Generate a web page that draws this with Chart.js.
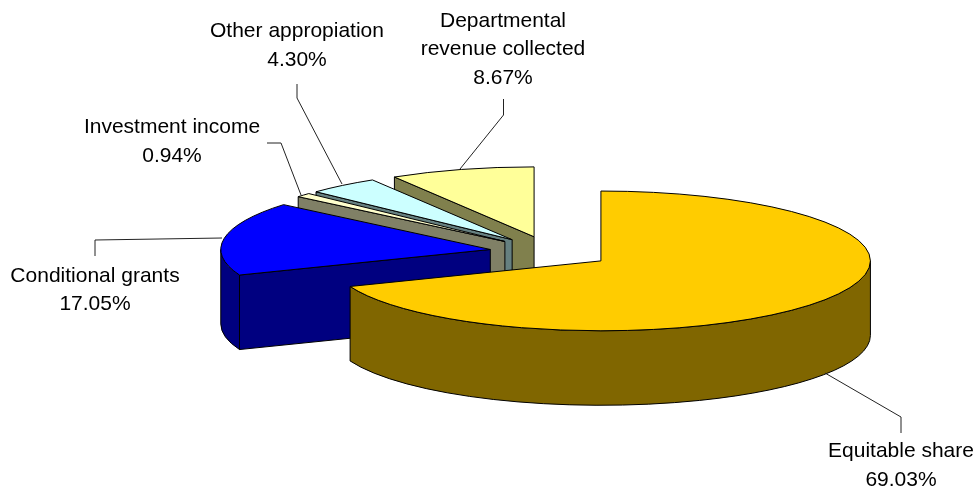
<!DOCTYPE html>
<html>
<head>
<meta charset="utf-8">
<style>html,body{margin:0;padding:0;background:#fff}canvas{display:block}</style>
<script src="https://cdn.jsdelivr.net/npm/chart.js@4/dist/chart.umd.js"></script>
</head>
<body>
<canvas id="c" width="977" height="488"></canvas>
<script>
const categories = ['Equitable share', 'Conditional grants', 'Investment income', 'Other appropiation', 'Departmental revenue collected'];
const values = [69.03, 17.05, 0.94, 4.30, 8.67];
const valueLabels = ['69.03%', '17.05%', '0.94%', '4.30%', '8.67%'];
const topColors = ['#FFCC00', '#0000FF', '#FFFFCC', '#CCFFFF', '#FFFF99'];
const sideColors = ['#806600', '#000080', '#808066', '#668080', '#80804D'];

const tilt = 70 / 270, depth = 74.5, explode = 61;
const paintOrder = [4, 3, 2, 1, 0];
const labelLayout = [
  {x: 901, y: [451, 480], lines: ['Equitable share'], leader: [[825,373],[901,417],[901,433]]},
  {x: 95,  y: [276, 304], lines: ['Conditional grants'], leader: [[222,238],[95,240],[95,256]]},
  {x: 172, y: [127, 156], lines: ['Investment income'], leader: [[301,195],[281,143],[267,143]]},
  {x: 297, y: [31, 60],   lines: ['Other appropiation'], leader: [[342,184],[297,98],[297,84]]},
  {x: 503, y: [21, 49, 78], lines: ['Departmental', 'revenue collected'], leader: [[460,169],[503.5,115],[503.5,99]]}
];

const pie3d = {
  id: 'pie3d',
  beforeDatasetDraw(chart, args) {
    const ctx = chart.ctx;
    const arcs = chart.getDatasetMeta(args.index).data;
    ctx.save();
    ctx.lineWidth = 1;
    ctx.strokeStyle = '#000';
    ctx.lineJoin = 'round';
    paintOrder.forEach(i => {
      const arc = arcs[i];
      const {x, y, startAngle: a, endAngle: b, outerRadius: r} = arc.getProps(['x','y','startAngle','endAngle','outerRadius'], true);
      const mid = (a + b) / 2;
      const ex = x + explode * Math.cos(mid);
      const ey = y + explode * tilt * Math.sin(mid);
      const ry = r * tilt;
      const px = t => ex + r * Math.cos(t);
      const py = t => ey + ry * Math.sin(t);
      ctx.fillStyle = sideColors[i];
      // cut walls that face the viewer
      [[a, -Math.cos(a)], [b, Math.cos(b)]].forEach(([t, facing]) => {
        if (facing <= 0.001) return;
        ctx.beginPath();
        ctx.moveTo(ex, ey);
        ctx.lineTo(px(t), py(t));
        ctx.lineTo(px(t), py(t) + depth);
        ctx.lineTo(ex, ey + depth);
        ctx.closePath();
        ctx.fill();
        ctx.stroke();
      });
      // outer wall, front half only
      const s = Math.max(a, 0), e = Math.min(b, Math.PI);
      if (e > s) {
        ctx.beginPath();
        ctx.ellipse(ex, ey, r, ry, 0, s, e);
        ctx.lineTo(px(e), py(e) + depth);
        ctx.ellipse(ex, ey + depth, r, ry, 0, e, s, true);
        ctx.closePath();
        ctx.fill();
        ctx.stroke();
      }
      // top face drawn by the Chart.js arc element under a squashing transform
      ctx.save();
      ctx.translate(ex, ey);
      ctx.scale(1, tilt);
      ctx.translate(-x, -y);
      arc.draw(ctx);
      ctx.restore();
      ctx.beginPath();
      ctx.moveTo(ex, ey);
      ctx.ellipse(ex, ey, r, ry, 0, a, b);
      ctx.closePath();
      ctx.stroke();
    });
    ctx.restore();
    return false;
  },
  afterDatasetsDraw(chart) {
    const ctx = chart.ctx;
    ctx.save();
    ctx.lineWidth = 1;
    ctx.strokeStyle = '#222';
    ctx.fillStyle = '#000';
    ctx.font = '21px "Liberation Sans", Arial, sans-serif';
    ctx.textAlign = 'center';
    ctx.textBaseline = 'middle';
    labelLayout.forEach((l, i) => {
      ctx.beginPath();
      l.leader.forEach((p, j) => j ? ctx.lineTo(p[0], p[1]) : ctx.moveTo(p[0], p[1]));
      ctx.stroke();
      [...l.lines, valueLabels[i]].forEach((t, j) => ctx.fillText(t, l.x, l.y[j]));
    });
    ctx.restore();
  }
};

new Chart(document.getElementById('c'), {
  type: 'pie',
  data: {
    labels: categories,
    datasets: [{ data: values, backgroundColor: topColors, borderWidth: 0 }]
  },
  options: {
    responsive: false,
    animation: false,
    radius: 269.5,
    rotation: 0,
    layout: { padding: { left: 124, top: 16 } },
    plugins: { legend: { display: false }, tooltip: { enabled: false } }
  },
  plugins: [pie3d]
});
</script>
</body>
</html>
